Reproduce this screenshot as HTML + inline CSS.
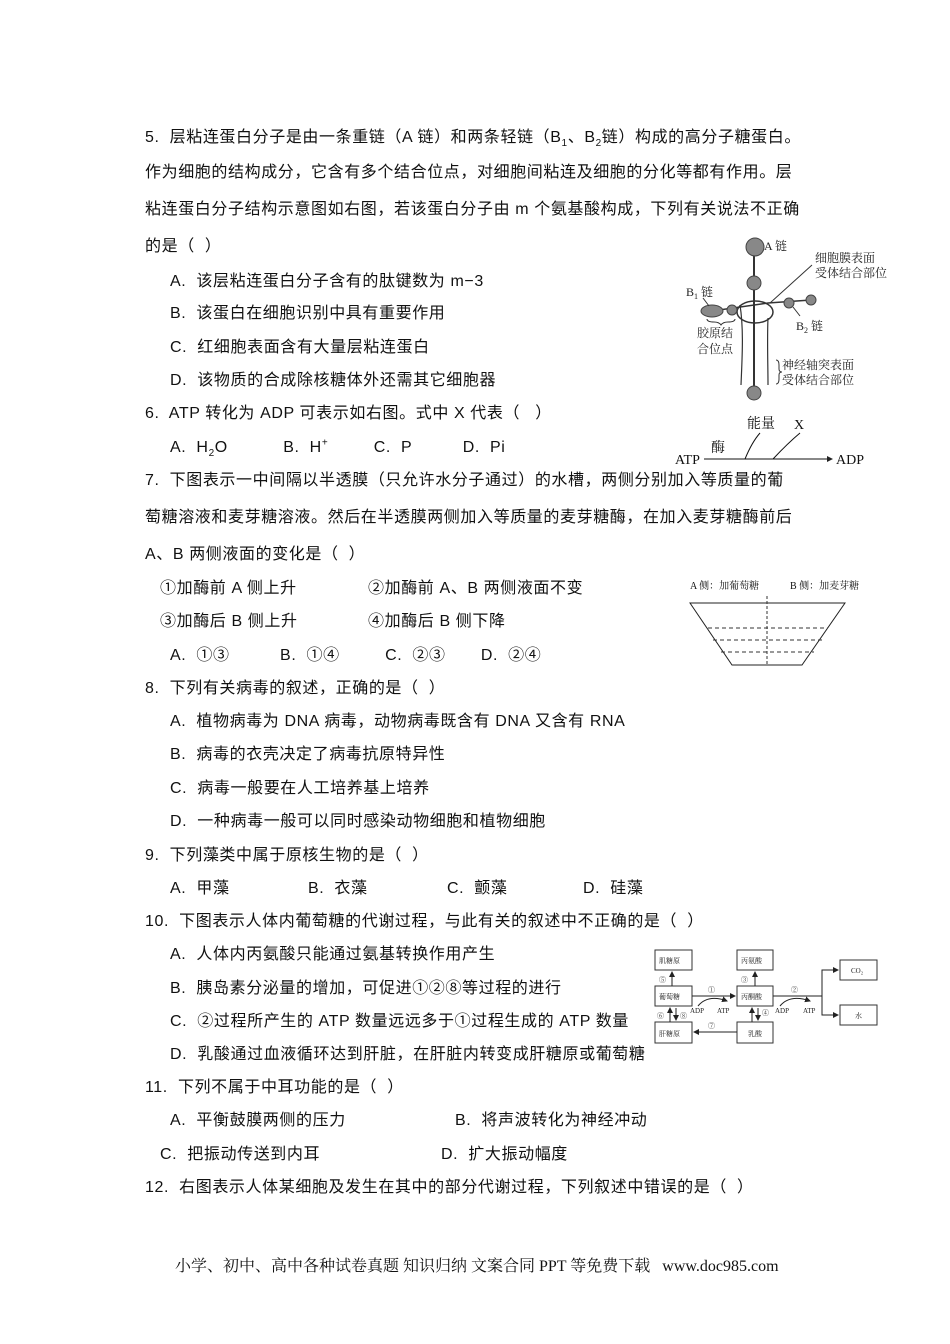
<!DOCTYPE html>
<html><head><meta charset="utf-8"><style>
body{margin:0;background:#fff;}
#p{position:relative;width:950px;height:1344px;overflow:hidden;font-family:"Liberation Sans","Noto Sans CJK SC",sans-serif;font-size:16px;color:#111;}
.t{position:absolute;white-space:nowrap;line-height:20px;letter-spacing:0.6px;}
.t sub,.t sup{font-size:10px;line-height:0;}
.s{font-family:"Liberation Serif","Noto Serif CJK SC",serif;}
svg{position:absolute;left:0;top:0;}
</style></head><body><div id="p">
<div class="t" style="left:145px;top:128px">5.&nbsp; 层粘连蛋白分子是由一条重链（A 链）和两条轻链（B<sub>1</sub>、B<sub>2</sub>链）构成的高分子糖蛋白。</div>
<div class="t" style="left:145px;top:163px">作为细胞的结构成分，它含有多个结合位点，对细胞间粘连及细胞的分化等都有作用。层</div>
<div class="t" style="left:145px;top:200px">粘连蛋白分子结构示意图如右图，若该蛋白分子由 m 个氨基酸构成，下列有关说法不正确</div>
<div class="t" style="left:145px;top:237px">的是（&nbsp;&nbsp;）</div>
<div class="t" style="left:170px;top:272px">A.&nbsp; 该层粘连蛋白分子含有的肽键数为 m−3</div>
<div class="t" style="left:170px;top:304px">B.&nbsp; 该蛋白在细胞识别中具有重要作用</div>
<div class="t" style="left:170px;top:338px">C.&nbsp; 红细胞表面含有大量层粘连蛋白</div>
<div class="t" style="left:170px;top:371px">D.&nbsp; 该物质的合成除核糖体外还需其它细胞器</div>
<div class="t" style="left:145px;top:404px">6.&nbsp; ATP 转化为 ADP 可表示如右图。式中 X 代表（&nbsp;&nbsp;&nbsp;）</div>
<div class="t" style="left:170px;top:438px">A.&nbsp; H<sub>2</sub>O&nbsp;&nbsp;&nbsp;&nbsp;&nbsp;&nbsp;&nbsp;&nbsp;&nbsp;&nbsp; B.&nbsp; H<sup>+</sup>&nbsp;&nbsp;&nbsp;&nbsp;&nbsp;&nbsp;&nbsp;&nbsp; C.&nbsp; P&nbsp;&nbsp;&nbsp;&nbsp;&nbsp;&nbsp;&nbsp;&nbsp;&nbsp; D.&nbsp; Pi</div>
<div class="t" style="left:145px;top:471px">7.&nbsp; 下图表示一中间隔以半透膜（只允许水分子通过）的水槽，两侧分别加入等质量的葡</div>
<div class="t" style="left:145px;top:508px">萄糖溶液和麦芽糖溶液。然后在半透膜两侧加入等质量的麦芽糖酶，在加入麦芽糖酶前后</div>
<div class="t" style="left:145px;top:545px">A、B 两侧液面的变化是（&nbsp;&nbsp;）</div>
<div class="t" style="left:160px;top:579px">①加酶前 A 侧上升</div>
<div class="t" style="left:368px;top:579px">②加酶前 A、B 两侧液面不变</div>
<div class="t" style="left:160px;top:612px">③加酶后 B 侧上升</div>
<div class="t" style="left:368px;top:612px">④加酶后 B 侧下降</div>
<div class="t" style="left:170px;top:646px">A.&nbsp; ①③&nbsp;&nbsp;&nbsp;&nbsp;&nbsp;&nbsp;&nbsp;&nbsp;&nbsp; B.&nbsp; ①④&nbsp;&nbsp;&nbsp;&nbsp;&nbsp;&nbsp;&nbsp;&nbsp; C.&nbsp; ②③&nbsp;&nbsp;&nbsp;&nbsp;&nbsp;&nbsp; D.&nbsp; ②④</div>
<div class="t" style="left:145px;top:679px">8.&nbsp; 下列有关病毒的叙述，正确的是（&nbsp;&nbsp;）</div>
<div class="t" style="left:170px;top:712px">A.&nbsp; 植物病毒为 DNA 病毒，动物病毒既含有 DNA 又含有 RNA</div>
<div class="t" style="left:170px;top:745px">B.&nbsp; 病毒的衣壳决定了病毒抗原特异性</div>
<div class="t" style="left:170px;top:779px">C.&nbsp; 病毒一般要在人工培养基上培养</div>
<div class="t" style="left:170px;top:812px">D.&nbsp; 一种病毒一般可以同时感染动物细胞和植物细胞</div>
<div class="t" style="left:145px;top:846px">9.&nbsp; 下列藻类中属于原核生物的是（&nbsp;&nbsp;）</div>
<div class="t" style="left:170px;top:879px">A.&nbsp; 甲藻</div>
<div class="t" style="left:308px;top:879px">B.&nbsp; 衣藻</div>
<div class="t" style="left:447px;top:879px">C.&nbsp; 颤藻</div>
<div class="t" style="left:583px;top:879px">D.&nbsp; 硅藻</div>
<div class="t" style="left:145px;top:912px">10.&nbsp; 下图表示人体内葡萄糖的代谢过程，与此有关的叙述中不正确的是（&nbsp;&nbsp;）</div>
<div class="t" style="left:170px;top:945px">A.&nbsp; 人体内丙氨酸只能通过氨基转换作用产生</div>
<div class="t" style="left:170px;top:979px">B.&nbsp; 胰岛素分泌量的增加，可促进①②⑧等过程的进行</div>
<div class="t" style="left:170px;top:1012px">C.&nbsp; ②过程所产生的 ATP 数量远远多于①过程生成的 ATP 数量</div>
<div class="t" style="left:170px;top:1045px">D.&nbsp; 乳酸通过血液循环达到肝脏，在肝脏内转变成肝糖原或葡萄糖</div>
<div class="t" style="left:145px;top:1078px">11.&nbsp; 下列不属于中耳功能的是（&nbsp;&nbsp;）</div>
<div class="t" style="left:170px;top:1111px">A.&nbsp; 平衡鼓膜两侧的压力</div>
<div class="t" style="left:455px;top:1111px">B.&nbsp; 将声波转化为神经冲动</div>
<div class="t" style="left:160px;top:1145px">C.&nbsp; 把振动传送到内耳</div>
<div class="t" style="left:441px;top:1145px">D.&nbsp; 扩大振动幅度</div>
<div class="t" style="left:145px;top:1178px">12.&nbsp; 右图表示人体某细胞及发生在其中的部分代谢过程，下列叙述中错误的是（&nbsp;&nbsp;）</div>
<div class="t s" style="left:175px;top:1257px;font-size:16px;letter-spacing:0">小学、初中、高中各种试卷真题 知识归纳 文案合同 PPT 等免费下载&nbsp;&nbsp; www.doc985.com</div>

<svg width="950" height="1344" font-family="Liberation Serif,Noto Serif CJK SC,serif" fill="none" stroke="#333">
<defs><marker id="a" markerWidth="6" markerHeight="6" refX="5" refY="3" orient="auto"><path d="M0,0L6,3L0,6z" fill="#222" stroke="none"/></marker></defs>
<line x1="754" y1="247" x2="754" y2="393" stroke-width="2"/>
<ellipse cx="755" cy="312" rx="18" ry="11" stroke-width="1.5"/>
<path d="M740,305 C744,330 742,360 741,385 M768,318 C767,340 768,365 768,385" stroke-width="1.2"/>
<line x1="712" y1="311" x2="768" y2="303" stroke-width="1.5"/>
<line x1="768" y1="303" x2="811" y2="300" stroke-width="1.5"/>
<g fill="#888" stroke="#444">
<circle cx="755" cy="247" r="9"/><circle cx="754" cy="283" r="7"/><circle cx="754" cy="393" r="7"/>
<ellipse cx="712" cy="311" rx="11" ry="6"/><circle cx="732" cy="310" r="5"/>
<circle cx="789" cy="303" r="5"/><circle cx="811" cy="300" r="5"/></g>
<line x1="770" y1="303" x2="812" y2="265" stroke-width="1"/>
<line x1="703" y1="298" x2="709" y2="306" stroke-width="1"/>
<line x1="793" y1="307" x2="800" y2="316" stroke-width="1"/>
<path d="M707,319 q0,3 7,3 q5,0 7,3 q2,-3 7,-3 q7,0 7,-3" stroke-width="1"/>
<path d="M776,360 q3,0 3,5 v4 q0,3 3,3 q-3,0 -3,3 v4 q0,5 -3,5" stroke-width="1"/>
<g fill="#222" stroke="none" font-size="12">
<text x="764" y="250">A 链</text><text x="815" y="262">细胞膜表面</text><text x="815" y="277">受体结合部位</text>
<text x="686" y="296">B<tspan font-size="8" dy="3">1</tspan><tspan dy="-3"> 链</tspan></text>
<text x="796" y="330">B<tspan font-size="8" dy="3">2</tspan><tspan dy="-3"> 链</tspan></text>
<text x="697" y="337">胶原结</text><text x="697" y="353">合位点</text>
<text x="782" y="369">神经轴突表面</text><text x="782" y="384">受体结合部位</text></g>
<line x1="704" y1="459" x2="832" y2="459" stroke="#111" marker-end="url(#a)"/>
<path d="M745,459 Q752,442 760,433 M773,459 Q788,443 800,433" stroke="#111"/>
<g fill="#111" stroke="none" font-size="14"><text x="675" y="464">ATP</text><text x="836" y="464">ADP</text>
<text x="711" y="452">酶</text><text x="747" y="428">能量</text><text x="794" y="429">X</text></g>
<g fill="#111" stroke="none" font-size="10"><text x="690" y="589">A 侧：加葡萄糖</text><text x="790" y="589">B 侧：加麦芽糖</text></g>
<path d="M690,603 L845,603 L802,665 L732,665 Z" stroke="#222"/>
<line x1="767" y1="596" x2="767" y2="665" stroke-dasharray="3,2"/>
<path d="M708,628H828M713,640H822M721,652H814" stroke-dasharray="4,3"/>
<g stroke="#333" stroke-width="1"><rect x="655" y="950" width="37" height="20"/><rect x="655" y="986" width="37" height="20"/><rect x="655" y="1022" width="37" height="21"/>
<rect x="737" y="950" width="36" height="20"/><rect x="737" y="986" width="36" height="20"/><rect x="737" y="1022" width="36" height="21"/>
<rect x="840" y="960" width="37" height="20"/><rect x="840" y="1005" width="37" height="20"/></g>
<g stroke="#222" marker-end="url(#a)">
<line x1="672" y1="986" x2="672" y2="972"/><line x1="755" y1="986" x2="755" y2="972"/>
<line x1="692" y1="996" x2="735" y2="996"/><line x1="737" y1="1032" x2="694" y2="1032"/>
<line x1="670" y1="1022" x2="670" y2="1008"/><line x1="676" y1="1008" x2="676" y2="1020"/>
<line x1="752" y1="1022" x2="752" y2="1008"/><line x1="758" y1="1008" x2="758" y2="1020"/>
<path d="M773,996H822V970H838"/><path d="M822,996V1015H838"/>
<path d="M698,1006 Q708,994 727,1001"/><path d="M780,1006 Q790,994 810,1001"/></g>
<g fill="#222" stroke="none" font-size="7"><text x="690" y="1013">ADP</text><text x="717" y="1013">ATP</text><text x="775" y="1013">ADP</text><text x="803" y="1013">ATP</text>
<text x="659" y="982">⑤</text><text x="741" y="982">③</text><text x="708" y="992">①</text><text x="791" y="992">②</text>
<text x="657" y="1018">⑥</text><text x="680" y="1018">⑧</text><text x="762" y="1015">④</text><text x="708" y="1028">⑦</text>
<text x="659" y="963">肌糖原</text><text x="659" y="999">葡萄糖</text><text x="659" y="1036">肝糖原</text>
<text x="741" y="963">丙氨酸</text><text x="741" y="999">丙酮酸</text><text x="748" y="1036">乳酸</text>
<text x="851" y="973">CO₂</text><text x="855" y="1018">水</text></g>
</svg>
</div></body></html>
